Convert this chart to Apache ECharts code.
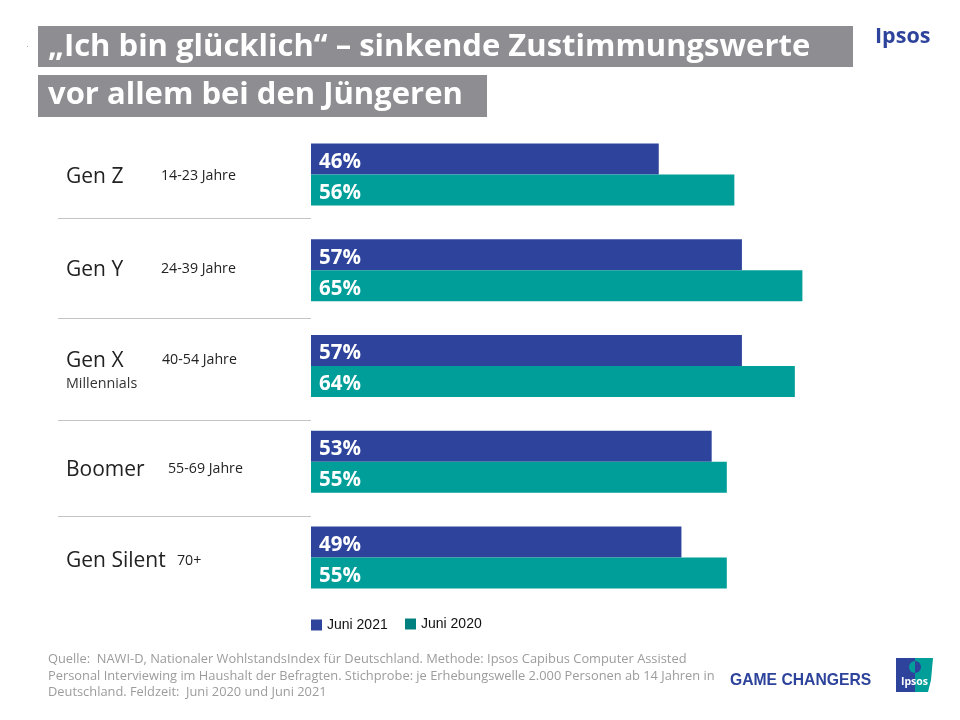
<!DOCTYPE html>
<html>
<head>
<meta charset="utf-8">
<style>
  html, body { margin: 0; padding: 0; background: #fff; }
  #chart { width: 960px; height: 720px; }
</style>
<script src="https://cdn.jsdelivr.net/npm/echarts@6/dist/echarts.min.js"></script>
</head>
<body>
<div id="chart"></div>
<script>
const categories = ['Gen Z', 'Gen Y', 'Gen X', 'Boomer', 'Gen Silent'];
const ageRanges = ['14-23 Jahre', '24-39 Jahre', '40-54 Jahre', '55-69 Jahre', '70+'];
const juni2021 = [46, 57, 57, 53, 49];
const juni2020 = [56, 65, 64, 55, 55];
const titleLines = ['„Ich bin glücklich“ – sinkende Zustimmungswerte', 'vor allem bei den Jüngeren'];
const sourceLines = [
  'Quelle:  NAWI-D, Nationaler WohlstandsIndex für Deutschland. Methode: Ipsos Capibus Computer Assisted',
  'Personal Interviewing im Haushalt der Befragten. Stichprobe: je Erhebungswelle 2.000 Personen ab 14 Jahren in',
  'Deutschland. Feldzeit:  Juni 2020 und Juni 2021'
];

const BLUE = '#2e439b';
const TEAL = '#009e99';
const GREY = '#8e8e92';
const FONT = '"Open Sans", sans-serif';

const chart = echarts.init(document.getElementById('chart'), null, { renderer: 'canvas' });

// text next to the bars, x/y
const nameY = [177, 270, 361, 470, 561];
const rangeX = [161, 161, 162, 168, 177];
const rangeY = [176, 269, 360, 469, 561];

const graphic = [
  { type: 'rect', shape: { x: 38, y: 26, width: 815, height: 41 }, style: { fill: GREY } },
  { type: 'rect', shape: { x: 38, y: 75, width: 449, height: 42 }, style: { fill: GREY } },
  { type: 'rect', shape: { x: 27, y: 46, width: 1, height: 1 }, style: { fill: '#aaa' } },
  { type: 'text', x: 48, y: 47, style: { text: titleLines[0], fill: '#fff', font: 'bold 31px ' + FONT, verticalAlign: 'middle' } },
  { type: 'text', x: 48, y: 95, style: { text: titleLines[1], fill: '#fff', font: 'bold 31px ' + FONT, verticalAlign: 'middle' } },
  // top logo
  { type: 'text', x: 875, y: 37, style: { text: 'Ipsos', fill: BLUE, font: 'bold 21.5px ' + FONT, verticalAlign: 'middle' } },
  // bottom branding
  { type: 'text', x: 730, y: 681, style: { text: 'GAME CHANGERS', fill: BLUE, font: 'bold 15.7px "Liberation Sans", sans-serif', verticalAlign: 'middle' } },
  { type: 'rect', shape: { x: 896, y: 658, width: 19, height: 34 }, style: { fill: BLUE } },
  { type: 'polygon', shape: { points: [[915, 658], [933, 658], [931, 680], [928, 692], [915, 692]] }, style: { fill: TEAL } },
  { type: 'sector', shape: { cx: 915, cy: 667, r: 6, startAngle: Math.PI / 2, endAngle: Math.PI * 1.5 }, style: { fill: TEAL } },
  { type: 'sector', shape: { cx: 915, cy: 667, r: 6, startAngle: -Math.PI / 2, endAngle: Math.PI / 2 }, style: { fill: BLUE } },
  { type: 'text', x: 914.5, y: 682, style: { text: 'Ipsos', fill: '#fff', font: 'bold 10.5px ' + FONT, align: 'center', verticalAlign: 'middle' } },
  // sub label under Gen X
  { type: 'text', x: 66, y: 384, style: { text: 'Millennials', fill: '#333', font: '14.3px ' + FONT, verticalAlign: 'middle' } }
];

[218, 318, 420, 516].forEach(function (y) {
  graphic.push({ type: 'line', shape: { x1: 58, y1: y + 0.5, x2: 311, y2: y + 0.5 }, style: { stroke: '#c4c4c4', lineWidth: 1 } });
});

categories.forEach(function (name, i) {
  graphic.push({ type: 'text', x: 66, y: nameY[i], style: { text: name, fill: '#222', font: '21px ' + FONT, verticalAlign: 'middle' } });
  graphic.push({ type: 'text', x: rangeX[i], y: rangeY[i], style: { text: ageRanges[i], fill: '#222', font: '14.2px ' + FONT, verticalAlign: 'middle' } });
});

sourceLines.forEach(function (line, i) {
  graphic.push({ type: 'text', x: 48, y: [659, 676, 692][i], style: { text: line, fill: '#9c9c9c', font: '12.85px ' + FONT, verticalAlign: 'middle' } });
});

const barLabel = {
  show: true,
  position: 'insideLeft',
  distance: 8,
  offset: [0, 3],
  color: '#fff',
  fontFamily: FONT,
  fontWeight: 'bold',
  fontSize: 20.5,
  formatter: '{c}%'
};

chart.setOption({
  animation: false,
  backgroundColor: '#fff',
  grid: { left: 311, top: 126.6, width: 604.8, height: 478.8 },
  xAxis: { type: 'value', min: 0, max: 80, show: false },
  yAxis: {
    type: 'category',
    data: categories,
    inverse: true,
    axisLine: { show: false },
    axisTick: { show: false },
    axisLabel: { show: false }
  },
  legend: [
    {
      left: 306, top: 613, itemWidth: 11, itemHeight: 11, itemGap: 4,
      textStyle: { fontFamily: '"Liberation Sans", sans-serif', fontSize: 14, color: '#111' },
      data: [{ name: 'Juni 2021', icon: 'rect', itemStyle: { color: BLUE } }]
    },
    {
      left: 400, top: 612, itemWidth: 11, itemHeight: 11, itemGap: 5,
      textStyle: { fontFamily: '"Liberation Sans", sans-serif', fontSize: 14, color: '#111' },
      data: [{ name: 'Juni 2020', icon: 'rect', itemStyle: { color: '#00807f' } }]
    }
  ],
  series: [
    { name: 'Juni 2021', type: 'bar', data: juni2021, barWidth: 31, barGap: 0, itemStyle: { color: BLUE }, label: barLabel },
    { name: 'Juni 2020', type: 'bar', data: juni2020, barWidth: 31, barGap: 0, itemStyle: { color: TEAL }, label: barLabel }
  ],
  graphic: graphic
});
</script>
</body>
</html>
